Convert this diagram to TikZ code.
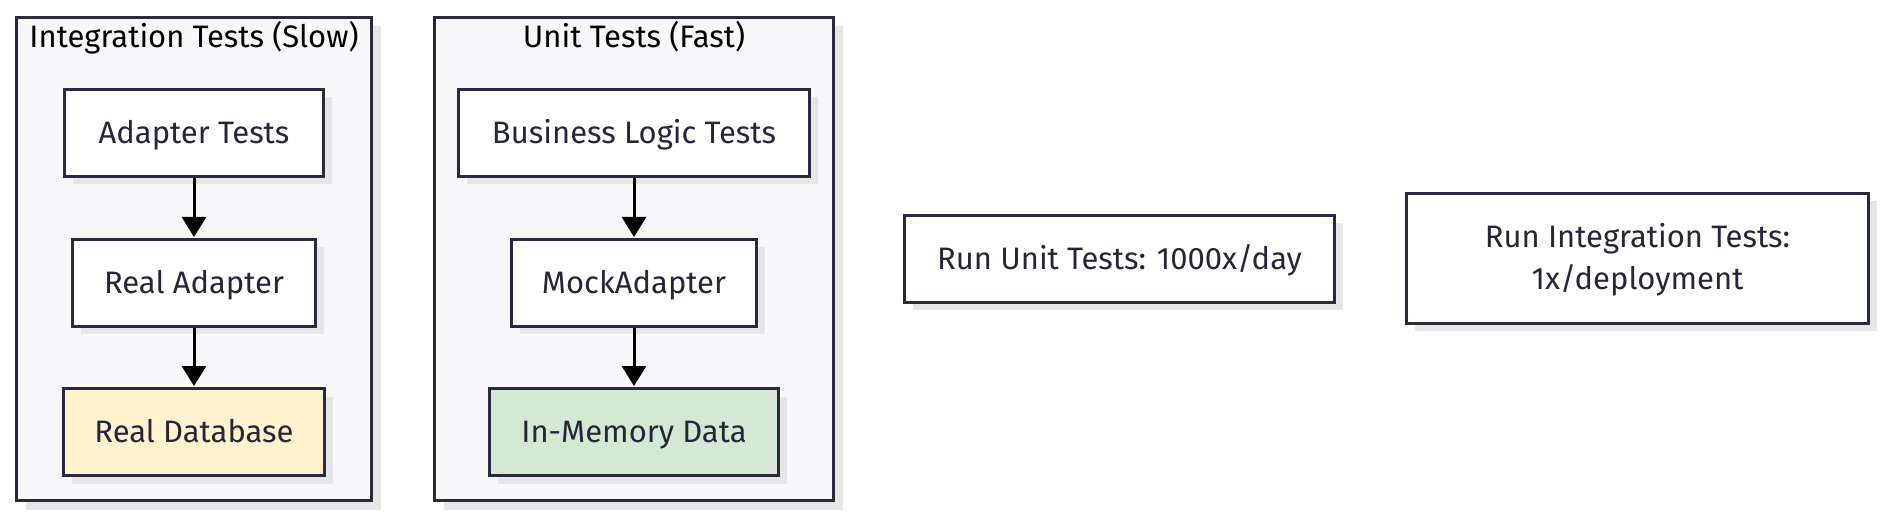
\documentclass[tikz,border=0pt]{standalone}
\usepackage{fontspec}
\setmainfont{Fira Sans}
\usetikzlibrary{arrows.meta,shadows}
\definecolor{txt}{HTML}{26263A}
\definecolor{edge}{HTML}{2A2A3E}
\definecolor{clfill}{HTML}{F8F8FA}
\definecolor{shade}{HTML}{E6E6EA}
\definecolor{yel}{HTML}{FFF2CC}
\definecolor{grn}{HTML}{D5E8D4}
\tikzset{
  box/.style={draw=edge, line width=3pt, fill=white, text=txt, inner sep=0pt,
    minimum height=87pt, align=center, text height=21pt, text depth=0pt,
    drop shadow={shadow xshift=8pt, shadow yshift=-8pt, fill=shade, opacity=1}},
  cluster/.style={draw=edge, line width=3pt, fill=clfill,
    drop shadow={shadow xshift=9pt, shadow yshift=-9pt, fill=shade, opacity=1}},
  title/.style={text=black, inner sep=0pt, text height=21pt, text depth=0pt},
  flow/.style={line width=3pt, -{Triangle[length=20pt,width=24pt]}, black, shorten >=1pt}
}
\begin{document}
\begin{tikzpicture}[x=1pt,y=-1pt, font=\fontsize{31}{42}\selectfont]
\useasboundingbox (0,0) rectangle (1886,518);
% clusters
\node[cluster, minimum width=355pt, minimum height=483pt, inner sep=0pt] (integ) at (194,259) {};
\node[cluster, minimum width=399pt, minimum height=483pt, inner sep=0pt] (unit) at (634,259) {};
\node[title] (integT) at (194,37.5) {Integration Tests (Slow)};
\node[title] (unitT) at (634,37.5) {Unit Tests (Fast)};
% integration nodes
\node[box, minimum width=259pt] (at) at (194,133) {Adapter Tests};
\node[box, minimum width=243pt] (ra) at (194,283) {Real Adapter};
\node[box, minimum width=261pt, fill=yel] (rd) at (194,432) {Real Database};
% unit nodes
\node[box, minimum width=351pt] (bl) at (634,133) {Business Logic Tests};
\node[box, minimum width=245pt] (ma) at (634,283) {MockAdapter};
\node[box, minimum width=289pt, fill=grn] (im) at (634,432) {In-Memory Data};
% right nodes
\node[box, minimum width=430pt] (ru) at (1119.5,259) {Run Unit Tests: 1000x/day};
\node[box, minimum width=462pt, minimum height=130pt, text height=63pt, text depth=0pt] (ri) at (1637.5,258.5) {Run Integration Tests:\\1x/deployment};
% arrows
\draw[flow] (at) -- (ra);
\draw[flow] (ra) -- (rd);
\draw[flow] (bl) -- (ma);
\draw[flow] (ma) -- (im);
\end{tikzpicture}
\end{document}
